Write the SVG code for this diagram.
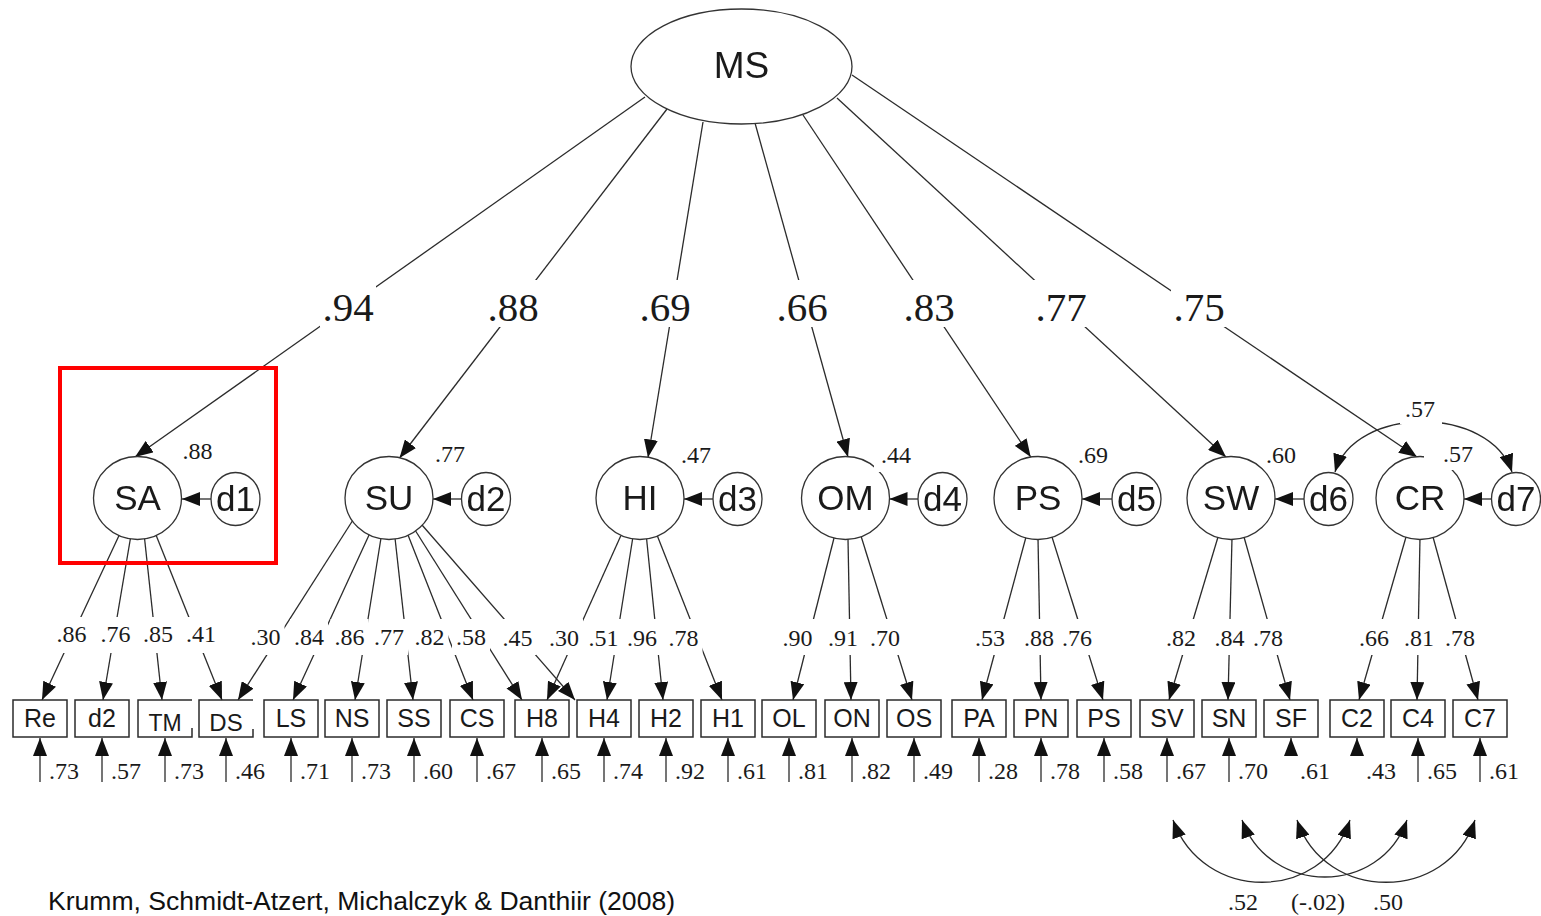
<svg xmlns="http://www.w3.org/2000/svg" width="1541" height="916" viewBox="0 0 1541 916">
<style>
.ln{fill:none;stroke:#2b2b2b;stroke-width:1.3;marker-end:url(#ah)}
.bi{fill:none;stroke:#2b2b2b;stroke-width:1.3;marker-start:url(#ah2);marker-end:url(#ah2)}
.lat{fill:#fff;stroke:#333;stroke-width:1.3}
.box{fill:#fff;stroke:#2b2b2b;stroke-width:1.5}
.open{fill:none;stroke:#2b2b2b;stroke-width:1.5}
.sans{font-family:"Liberation Sans",Arial,sans-serif;fill:#1a1a1a;text-anchor:middle}
.big{font-size:35px}
.ind{font-size:25px}
.num{font-family:"Liberation Serif","Times New Roman",serif;fill:#1a1a1a;font-size:24px}
.mid{text-anchor:middle}
.top{font-size:41px;text-anchor:middle}
</style>
<defs>
<marker id="ah" viewBox="0 0 18 14" markerWidth="18" markerHeight="14" refX="18" refY="7" orient="auto" markerUnits="userSpaceOnUse">
<path d="M0,0 L18,7 L0,14 Z" fill="#111"/>
</marker>
<marker id="ah2" viewBox="0 0 18 14" markerWidth="18" markerHeight="14" refX="18" refY="7" orient="auto-start-reverse" markerUnits="userSpaceOnUse">
<path d="M0,0 L18,7 L0,14 Z" fill="#111"/>
</marker>
<!-- clearance around coefficient labels -->
<mask id="gaps" maskUnits="userSpaceOnUse" x="0" y="0" width="1541" height="916">
<rect x="0" y="0" width="1541" height="916" fill="#fff"/>
<g fill="#000">
<rect x="320" y="280" width="56" height="47"/>
<rect x="485" y="280" width="56" height="47"/>
<rect x="637" y="280" width="56" height="47"/>
<rect x="774" y="280" width="56" height="47"/>
<rect x="901" y="280" width="56" height="47"/>
<rect x="1033" y="280" width="56" height="47"/>
<rect x="1171" y="280" width="56" height="47"/>
<rect x="874" y="442" width="42" height="30"/>
<rect x="1424" y="440" width="52" height="30"/>
<rect x="1400" y="396" width="42" height="28"/>
<rect x="52.5" y="617" width="38" height="36"/>
<rect x="96.5" y="617" width="38" height="36"/>
<rect x="139" y="617" width="38" height="36"/>
<rect x="182" y="617" width="38" height="36"/>
<rect x="246.5" y="619" width="38" height="36"/>
<rect x="290" y="619" width="38" height="36"/>
<rect x="330.5" y="619" width="38" height="36"/>
<rect x="370" y="619" width="38" height="36"/>
<rect x="410.5" y="619" width="38" height="36"/>
<rect x="452" y="619" width="38" height="36"/>
<rect x="498.5" y="619" width="38" height="36"/>
<rect x="545" y="619" width="38" height="36"/>
<rect x="584.5" y="619" width="38" height="36"/>
<rect x="623" y="619" width="38" height="36"/>
<rect x="664.5" y="619" width="38" height="36"/>
<rect x="778.5" y="619" width="38" height="36"/>
<rect x="824" y="619" width="38" height="36"/>
<rect x="866" y="619" width="38" height="36"/>
<rect x="971" y="619" width="38" height="36"/>
<rect x="1020" y="619" width="38" height="36"/>
<rect x="1058" y="619" width="38" height="36"/>
<rect x="1162" y="619" width="38" height="36"/>
<rect x="1210.5" y="619" width="38" height="36"/>
<rect x="1249" y="619" width="38" height="36"/>
<rect x="1355" y="619" width="38" height="36"/>
<rect x="1400" y="619" width="38" height="36"/>
<rect x="1441" y="619" width="38" height="36"/>
</g>
</mask>
</defs>
<rect x="0" y="0" width="1541" height="916" fill="#fff"/>

<g id="connectors" mask="url(#gaps)">
<!-- second-order loadings -->
<path class="ln" d="M645,97 L135,457"/>
<path class="ln" d="M667,109 L399.5,458"/>
<path class="ln" d="M703,122 L648,457.5"/>
<path class="ln" d="M755,123 L848,457"/>
<path class="ln" d="M803,115 L1030.7,457"/>
<path class="ln" d="M837,98 L1226,457"/>
<path class="ln" d="M852,75 L1417,457"/>
<!-- disturbances -->
<path class="ln" d="M211,499 L182,499"/>
<path class="ln" d="M461.5,499 L433,499"/>
<path class="ln" d="M713,499 L684,499"/>
<path class="ln" d="M918,499 L889.5,499"/>
<path class="ln" d="M1112,499 L1082,499"/>
<path class="ln" d="M1304,499 L1275,499"/>
<path class="ln" d="M1491.5,499 L1464,499"/>
<path class="bi" d="M1335,472 C1355,405 1490,405 1512,472"/>
<!-- first-order loadings -->
<path class="ln" d="M119.5,534.5 L42,700"/>
<path class="ln" d="M130.5,538 L103,700"/>
<path class="ln" d="M144.5,538 L162,700"/>
<path class="ln" d="M155.8,534.6 L222,700"/>
<path class="ln" d="M353,520 L238,700"/>
<path class="ln" d="M369.5,534 L293,700"/>
<path class="ln" d="M381,538 L355,700"/>
<path class="ln" d="M395,538 L413,700"/>
<path class="ln" d="M408,535 L473,700"/>
<path class="ln" d="M415,530 L522,700"/>
<path class="ln" d="M422,525 L575,700"/>
<path class="ln" d="M620.8,535.7 L547,700"/>
<path class="ln" d="M632.6,539 L607,700"/>
<path class="ln" d="M646.6,539 L663,700"/>
<path class="ln" d="M657,535 L722,700"/>
<path class="ln" d="M834,538 L793,700"/>
<path class="ln" d="M848,539 L851,700"/>
<path class="ln" d="M861,536 L912,700"/>
<path class="ln" d="M1026,537 L982,700"/>
<path class="ln" d="M1038,538 L1041,700"/>
<path class="ln" d="M1052,537 L1103,700"/>
<path class="ln" d="M1218,537 L1169,700"/>
<path class="ln" d="M1232,538 L1228,700"/>
<path class="ln" d="M1244,537 L1290,700"/>
<path class="ln" d="M1406,537 L1359,700"/>
<path class="ln" d="M1420,537 L1417,700"/>
<path class="ln" d="M1433,537 L1478,700"/>
<!-- residuals -->
<path class="ln" d="M40,782 V738"/>
<path class="ln" d="M102,782 V738"/>
<path class="ln" d="M165,782 V738"/>
<path class="ln" d="M226,782 V738"/>
<path class="ln" d="M291,782 V738"/>
<path class="ln" d="M352,782 V738"/>
<path class="ln" d="M414,782 V738"/>
<path class="ln" d="M477,782 V738"/>
<path class="ln" d="M542,782 V738"/>
<path class="ln" d="M604,782 V738"/>
<path class="ln" d="M666,782 V738"/>
<path class="ln" d="M728,782 V738"/>
<path class="ln" d="M789,782 V738"/>
<path class="ln" d="M852,782 V738"/>
<path class="ln" d="M914,782 V738"/>
<path class="ln" d="M979,782 V738"/>
<path class="ln" d="M1041,782 V738"/>
<path class="ln" d="M1104,782 V738"/>
<path class="ln" d="M1167,782 V738"/>
<path class="ln" d="M1229,782 V738"/>
<path class="ln" d="M1291,756 V738"/>
<path class="ln" d="M1357,756 V738"/>
<path class="ln" d="M1418,782 V738"/>
<path class="ln" d="M1480,782 V738"/>
<!-- residual covariances -->
<path class="bi" d="M1173,820 C1203,903 1322,903 1350,820"/>
<path class="bi" d="M1242,820 C1270,896 1380,896 1407,820"/>
<path class="bi" d="M1297,820 C1325,903 1447,903 1475,820"/>
</g>

<g id="nodes" mask="url(#gaps)">
<g id="MS"><ellipse class="lat" cx="741.5" cy="66.5" rx="110.5" ry="57.5"/><text class="sans" x="741.5" y="78" font-size="37">MS</text></g>
<g id="lat-SA"><ellipse class="lat" cx="137.5" cy="498" rx="44" ry="41.5"/><text class="sans big" x="137.5" y="510">SA</text></g>
<g id="lat-SU"><ellipse class="lat" cx="389" cy="498" rx="44" ry="41.5"/><text class="sans big" x="389" y="510">SU</text></g>
<g id="lat-HI"><ellipse class="lat" cx="640" cy="498" rx="44" ry="41.5"/><text class="sans big" x="640" y="510">HI</text></g>
<g id="lat-OM"><ellipse class="lat" cx="845.5" cy="498" rx="44" ry="41.5"/><text class="sans big" x="845.5" y="510">OM</text></g>
<g id="lat-PS"><ellipse class="lat" cx="1038" cy="498" rx="44" ry="41.5"/><text class="sans big" x="1038" y="510">PS</text></g>
<g id="lat-SW"><ellipse class="lat" cx="1231" cy="498" rx="44" ry="41.5"/><text class="sans big" x="1231" y="510">SW</text></g>
<g id="lat-CR"><ellipse class="lat" cx="1420" cy="498" rx="44" ry="41.5"/><text class="sans big" x="1420" y="510">CR</text></g>
<g id="dist-d1"><ellipse class="lat" cx="235.5" cy="499" rx="24.5" ry="26.5"/><text class="sans big" x="235.5" y="511">d1</text></g>
<g id="dist-d2"><ellipse class="lat" cx="486" cy="499" rx="24.5" ry="26.5"/><text class="sans big" x="486" y="511">d2</text></g>
<g id="dist-d3"><ellipse class="lat" cx="737.5" cy="499" rx="24.5" ry="26.5"/><text class="sans big" x="737.5" y="511">d3</text></g>
<g id="dist-d4"><ellipse class="lat" cx="942.5" cy="499" rx="24.5" ry="26.5"/><text class="sans big" x="942.5" y="511">d4</text></g>
<g id="dist-d5"><ellipse class="lat" cx="1136.5" cy="499" rx="24.5" ry="26.5"/><text class="sans big" x="1136.5" y="511">d5</text></g>
<g id="dist-d6"><ellipse class="lat" cx="1328.5" cy="499" rx="24.5" ry="26.5"/><text class="sans big" x="1328.5" y="511">d6</text></g>
<g id="dist-d7"><ellipse class="lat" cx="1516" cy="499" rx="24.5" ry="26.5"/><text class="sans big" x="1516" y="511">d7</text></g>
</g>

<g id="indicators">
<g id="ind-Re"><rect class="box" x="13" y="700" width="54" height="37"/><text class="sans ind" x="40" y="727">Re</text></g>
<g id="ind-d2"><rect class="box" x="75" y="700" width="54" height="37"/><text class="sans ind" x="102" y="727">d2</text></g>
<g id="ind-TM"><path class="open" d="M192,700 H138 V737 H192 V728"/><text class="sans" x="165" y="731" font-size="23">TM</text></g>
<g id="ind-DS"><path class="open" d="M253,700 H199 V737 H253 V729"/><text class="sans" x="226" y="731" font-size="24">DS</text></g>
<g id="ind-LS"><rect class="box" x="264" y="700" width="54" height="37"/><text class="sans ind" x="291" y="727">LS</text></g>
<g id="ind-NS"><rect class="box" x="325" y="700" width="54" height="37"/><text class="sans ind" x="352" y="727">NS</text></g>
<g id="ind-SS"><rect class="box" x="387" y="700" width="54" height="37"/><text class="sans ind" x="414" y="727">SS</text></g>
<g id="ind-CS"><rect class="box" x="450" y="700" width="54" height="37"/><text class="sans ind" x="477" y="727">CS</text></g>
<g id="ind-H8"><rect class="box" x="515" y="700" width="54" height="37"/><text class="sans ind" x="542" y="727">H8</text></g>
<g id="ind-H4"><rect class="box" x="577" y="700" width="54" height="37"/><text class="sans ind" x="604" y="727">H4</text></g>
<g id="ind-H2"><rect class="box" x="639" y="700" width="54" height="37"/><text class="sans ind" x="666" y="727">H2</text></g>
<g id="ind-H1"><rect class="box" x="701" y="700" width="54" height="37"/><text class="sans ind" x="728" y="727">H1</text></g>
<g id="ind-OL"><rect class="box" x="762" y="700" width="54" height="37"/><text class="sans ind" x="789" y="727">OL</text></g>
<g id="ind-ON"><rect class="box" x="825" y="700" width="54" height="37"/><text class="sans ind" x="852" y="727">ON</text></g>
<g id="ind-OS"><rect class="box" x="887" y="700" width="54" height="37"/><text class="sans ind" x="914" y="727">OS</text></g>
<g id="ind-PA"><rect class="box" x="952" y="700" width="54" height="37"/><text class="sans ind" x="979" y="727">PA</text></g>
<g id="ind-PN"><rect class="box" x="1014" y="700" width="54" height="37"/><text class="sans ind" x="1041" y="727">PN</text></g>
<g id="ind-PS"><rect class="box" x="1077" y="700" width="54" height="37"/><text class="sans ind" x="1104" y="727">PS</text></g>
<g id="ind-SV"><rect class="box" x="1140" y="700" width="54" height="37"/><text class="sans ind" x="1167" y="727">SV</text></g>
<g id="ind-SN"><rect class="box" x="1202" y="700" width="54" height="37"/><text class="sans ind" x="1229" y="727">SN</text></g>
<g id="ind-SF"><rect class="box" x="1264" y="700" width="54" height="37"/><text class="sans ind" x="1291" y="727">SF</text></g>
<g id="ind-C2"><rect class="box" x="1330" y="700" width="54" height="37"/><text class="sans ind" x="1357" y="727">C2</text></g>
<g id="ind-C4"><rect class="box" x="1391" y="700" width="54" height="37"/><text class="sans ind" x="1418" y="727">C4</text></g>
<g id="ind-C7"><rect class="box" x="1453" y="700" width="54" height="37"/><text class="sans ind" x="1480" y="727">C7</text></g>
</g>

<g id="coefficients" class="num">
<!-- second-order loadings -->
<text class="top" x="348" y="321">.94</text>
<text class="top" x="513" y="321">.88</text>
<text class="top" x="665" y="321">.69</text>
<text class="top" x="802" y="321">.66</text>
<text class="top" x="929" y="321">.83</text>
<text class="top" x="1061" y="321">.77</text>
<text class="top" x="1199" y="321">.75</text>
<!-- explained variance of first-order factors -->
<text class="mid" x="197.5" y="459">.88</text>
<text class="mid" x="450" y="462">.77</text>
<text class="mid" x="696" y="463">.47</text>
<text class="mid" x="896" y="463">.44</text>
<text class="mid" x="1093" y="463">.69</text>
<text class="mid" x="1281" y="463">.60</text>
<text class="mid" x="1458" y="462">.57</text>
<text class="mid" x="1420" y="417">.57</text>
<!-- first-order loadings -->
<g class="mid">
<text x="71.5" y="642">.86</text>
<text x="115.5" y="642">.76</text>
<text x="158" y="642">.85</text>
<text x="201" y="642">.41</text>
<text x="265.5" y="645">.30</text>
<text x="309" y="645">.84</text>
<text x="349.5" y="645">.86</text>
<text x="389" y="645">.77</text>
<text x="429.5" y="645">.82</text>
<text x="471" y="645">.58</text>
<text x="517.5" y="646">.45</text>
<text x="564" y="646">.30</text>
<text x="603.5" y="646">.51</text>
<text x="642" y="646">.96</text>
<text x="683.5" y="646">.78</text>
<text x="797.5" y="646">.90</text>
<text x="843" y="646">.91</text>
<text x="885" y="646">.70</text>
<text x="990" y="646">.53</text>
<text x="1039" y="646">.88</text>
<text x="1077" y="646">.76</text>
<text x="1181" y="646">.82</text>
<text x="1229.5" y="646">.84</text>
<text x="1268" y="646">.78</text>
<text x="1374" y="646">.66</text>
<text x="1419" y="646">.81</text>
<text x="1460" y="646">.78</text>
</g>
<!-- residual variances -->
<text x="49" y="779">.73</text>
<text x="111" y="779">.57</text>
<text x="174" y="779">.73</text>
<text x="235" y="779">.46</text>
<text x="300" y="779">.71</text>
<text x="361" y="779">.73</text>
<text x="423" y="779">.60</text>
<text x="486" y="779">.67</text>
<text x="551" y="779">.65</text>
<text x="613" y="779">.74</text>
<text x="675" y="779">.92</text>
<text x="737" y="779">.61</text>
<text x="798" y="779">.81</text>
<text x="861" y="779">.82</text>
<text x="923" y="779">.49</text>
<text x="988" y="779">.28</text>
<text x="1050" y="779">.78</text>
<text x="1113" y="779">.58</text>
<text x="1176" y="779">.67</text>
<text x="1238" y="779">.70</text>
<text x="1300" y="779">.61</text>
<text x="1366" y="779">.43</text>
<text x="1427" y="779">.65</text>
<text x="1489" y="779">.61</text>
<!-- residual covariances -->
<text class="mid" x="1243" y="910">.52</text>
<text class="mid" x="1318" y="910">(-.02)</text>
<text class="mid" x="1388" y="910">.50</text>
</g>

<rect id="highlight" x="60" y="368" width="216" height="195" fill="none" stroke="#f00" stroke-width="4"/>
<text id="citation" x="48" y="910" font-family="'Liberation Sans',Arial,sans-serif" font-size="26" fill="#111" textLength="627" lengthAdjust="spacingAndGlyphs">Krumm, Schmidt-Atzert, Michalczyk &amp; Danthiir (2008)</text>
</svg>
